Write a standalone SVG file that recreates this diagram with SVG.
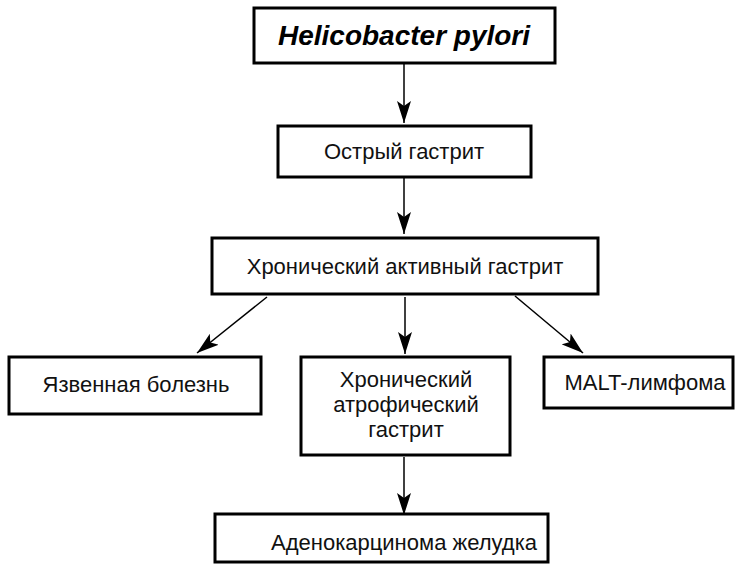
<svg xmlns="http://www.w3.org/2000/svg" width="739" height="564" viewBox="0 0 739 564">
<defs>
<style>
.box{fill:#fff;stroke:#000;stroke-width:3}
.t{font-family:"Liberation Sans",Arial,sans-serif;font-size:22px;fill:#111;text-anchor:middle}
.ti{font-family:"Liberation Sans",Arial,sans-serif;font-size:28px;font-weight:bold;font-style:italic;fill:#000;text-anchor:middle}
.c{stroke:#000;stroke-width:1.5;fill:none;marker-end:url(#ah)}
</style>
<marker id="ah" viewBox="0 0 22 14" refX="22" refY="7" markerWidth="22" markerHeight="14" markerUnits="userSpaceOnUse" orient="auto">
<path d="M0,0 L22,7 L0,14 L5,7 Z" fill="#000"/>
</marker>
</defs>
<rect width="739" height="564" fill="#fff"/>
<g id="connectors">
<line class="c" x1="404" y1="64" x2="404" y2="123"/>
<line class="c" x1="404" y1="178" x2="404" y2="234"/>
<line class="c" x1="267" y1="297" x2="197" y2="353"/>
<line class="c" x1="405" y1="297" x2="405" y2="354"/>
<line class="c" x1="515" y1="296" x2="583" y2="353"/>
<line class="c" x1="404" y1="457" x2="404" y2="515"/>
</g>
<g id="n-hp"><rect class="box" x="254" y="8" width="301" height="55"/><text class="ti" x="404" y="45">Helicobacter pylori</text></g>
<g id="n-acute"><rect class="box" x="278" y="126" width="253" height="51"/><text class="t" x="404" y="159">Острый гастрит</text></g>
<g id="n-chronic"><rect class="box" x="212" y="238" width="386" height="56"/><text class="t" x="405" y="274">Хронический активный гастрит</text></g>
<g id="n-ulcer"><rect class="box" x="9" y="357" width="252" height="57"/><text class="t" x="136" y="392">Язвенная болезнь</text></g>
<g id="n-atrophic"><rect class="box" x="301" y="357" width="209" height="98"/><text class="t" x="406" y="387">Хронический</text><text class="t" x="406" y="412">атрофический</text><text class="t" x="406" y="437">гастрит</text></g>
<g id="n-malt"><rect class="box" x="544" y="357" width="189" height="51"/><text class="t" x="645" y="390">MALT-лимфома</text></g>
<g id="n-adeno"><rect class="box" x="215" y="514" width="333" height="48"/><text class="t" x="404" y="550">Аденокарцинома желудка</text></g>
</svg>
